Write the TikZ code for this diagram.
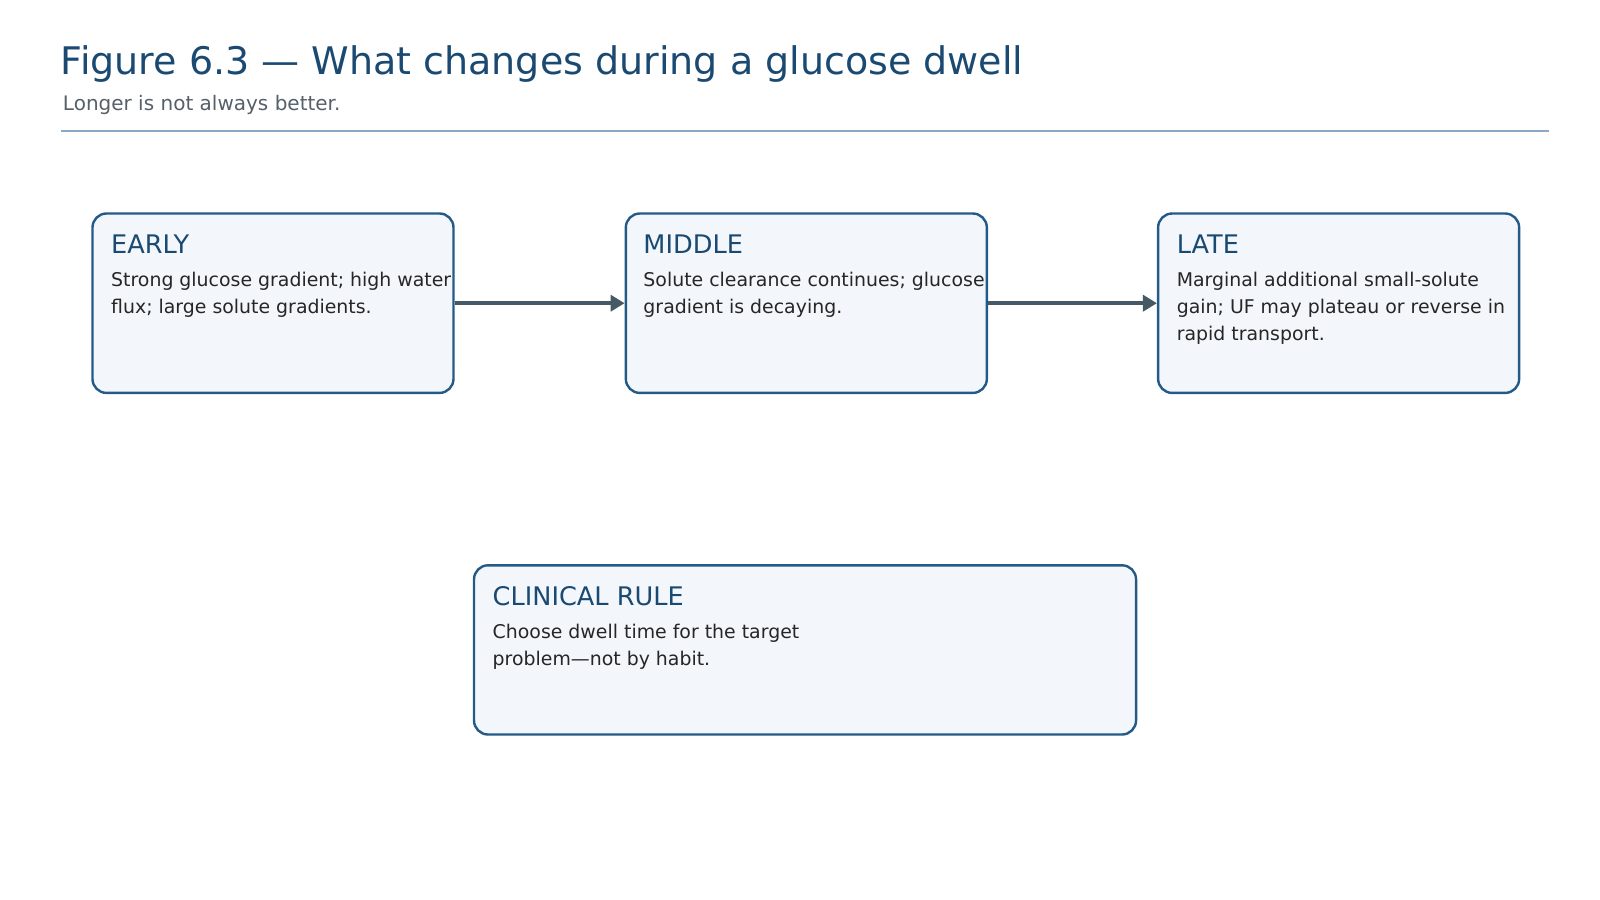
\documentclass[tikz,border=0pt]{standalone}
\usepackage{fontspec}
\setmainfont{DejaVu Sans}
\usetikzlibrary{positioning,arrows.meta}
\definecolor{titleblue}{HTML}{1A4A72}
\definecolor{boxline}{HTML}{245A87}
\definecolor{boxfill}{HTML}{F3F7FB}
\definecolor{arrowgray}{HTML}{455A64}
\definecolor{subgray}{HTML}{56606A}
\definecolor{rulecol}{HTML}{8AA8C4}
\tikzset{
  phase/.style={rectangle, rounded corners=7pt, draw=boxline, fill=boxfill, line width=1.2pt, anchor=north west},
  head/.style={anchor=west, inner sep=0pt, font=\fontsize{12.8}{15}\selectfont, text=titleblue},
  body/.style={anchor=north west, inner sep=0pt, align=left, font=\fontsize{9.45}{13.4}\selectfont, text=black!85},
  flow/.style={-{Triangle[length=7pt,width=8pt]}, line width=2pt, draw=arrowgray},
}
\begin{document}
\begin{tikzpicture}[x=0.5128pt,y=-0.5128pt]
  \useasboundingbox (0,0) rectangle (1560,877.5);

  % title block
  \node[anchor=west, inner sep=0pt, font=\fontsize{19}{23}\selectfont, text=titleblue] (title) at (59,62) {Figure 6.3 — What changes during a glucose dwell};
  \node[anchor=west, inner sep=0pt, font=\fontsize{10}{12}\selectfont, text=subgray] (subtitle) at (61,102) {Longer is not always better.};
  \draw[rulecol, line width=0.8pt] (59,128) -- (1510,128);

  % phases
  \node[phase, minimum width=180.5pt, minimum height=89.7pt] (early) at (89,207) {};
  \node[phase, minimum width=180.5pt, minimum height=89.7pt] (middle) at (609,207) {};
  \node[phase, minimum width=180.5pt, minimum height=89.7pt] (late) at (1128,207) {};
  \node[phase, minimum width=331pt, minimum height=84.6pt] (rule) at (461,550) {};

  \node[head] (earlyhead) at (108,238) {EARLY};
  \node[body] (earlytext) at (108,265) {Strong glucose gradient; high water\\flux; large solute gradients.};
  \node[head] (middlehead) at (627,238) {MIDDLE};
  \node[body] (middletext) at (627,265) {Solute clearance continues; glucose\\gradient is decaying.};
  \node[head] (latehead) at (1147,238) {LATE};
  \node[body] (latetext) at (1147,265) {Marginal additional small-solute\\gain; UF may plateau or reverse in\\rapid transport.};
  \node[head] (rulehead) at (480,581) {CLINICAL RULE};
  \node[body] (ruletext) at (480,608) {Choose dwell time for the target\\problem—not by habit.};

  % flow
  \draw[flow] (early.east) -- (middle.west);
  \draw[flow] (middle.east) -- (late.west);
\end{tikzpicture}
\end{document}
